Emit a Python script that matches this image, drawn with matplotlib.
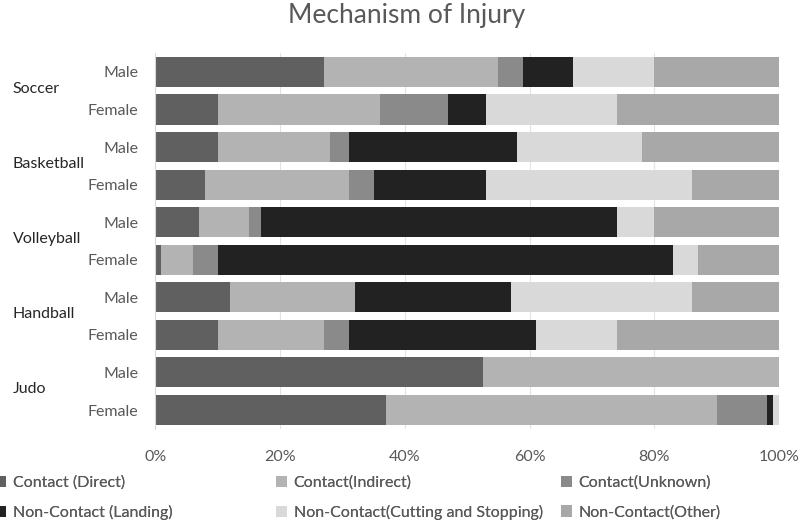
import numpy as np
import matplotlib.pyplot as plt

plt.rcParams['font.family'] = ['Lato', 'DejaVu Sans']

sports = ['Soccer', 'Basketball', 'Volleyball', 'Handball', 'Judo']
sexes = ['Male', 'Female']

# percent of injuries per mechanism, bars in top-to-bottom order
direct = [27, 10, 10, 8, 7, 1, 12, 10, 52.5, 37]
indirect = [28, 26, 18, 23, 8, 5, 20, 17, 47.5, 53]
unknown = [4, 11, 3, 4, 2, 4, 0, 4, 0, 8]
landing = [8, 6, 27, 18, 57, 73, 25, 30, 0, 1]
cutting = [13, 21, 20, 33, 6, 4, 29, 13, 0, 1]
other = [20, 26, 22, 14, 20, 13, 14, 26, 0, 0]

series = [
    ('Contact (Direct)', direct, '#606060'),
    ('Contact(Indirect)', indirect, '#b3b3b3'),
    ('Contact(Unknown)', unknown, '#8a8a8a'),
    ('Non-Contact (Landing)', landing, '#222222'),
    ('Non-Contact(Cutting and Stopping)', cutting, '#d9d9d9'),
    ('Non-Contact(Other)', other, '#a8a8a8'),
]

fig = plt.figure(figsize=(8, 5.21), dpi=100)
ax = fig.add_axes([0.194, 0.177, 0.78, 0.721])

y = np.arange(len(direct))
left = np.zeros(len(direct))
handles = {}
for name, vals, color in series:
    vals = np.array(vals, dtype=float)
    b = ax.barh(y, vals, left=left, height=0.8, color=color, label=name)
    handles[name] = b
    left += vals

ax.set_xlim(0, 100)
ax.set_ylim(len(direct) - 0.5, -0.5)
ax.set_xticks(np.arange(0, 101, 20))
ax.set_xticklabels([f'{v}%' for v in range(0, 101, 20)], fontsize=11.5, color='#595959')
ax.tick_params(axis='x', length=0, pad=15)
ax.set_yticks(y)
ax.set_yticklabels(sexes * len(sports), fontsize=11.5, color='#595959')
ax.tick_params(axis='y', length=0, pad=12)
ax.grid(axis='x', color='#e3e3e3', lw=0.8)
ax.set_axisbelow(True)
for s in ['top', 'right', 'bottom']:
    ax.spines[s].set_visible(False)
ax.spines['left'].set_color('#d9d9d9')

# sport group labels
trans = ax.get_yaxis_transform()
for i, sport in enumerate(sports):
    ax.text(-0.228, 2 * i + 0.45, sport, transform=trans, fontsize=11.5,
            color='#262626', ha='left', va='center')

fig.suptitle('Mechanism of Injury', y=0.995, x=0.508, fontsize=19, color='#595959')

# legend: three columns placed like the original
cols = [[0, 3], [1, 4], [2, 5]]
xs = [-0.006, 0.345, 0.701]
for xpos, idx in zip(xs, cols):
    hs = [handles[series[k][0]] for k in idx]
    lg = fig.legend(hs, [series[k][0] for k in idx], loc='upper left',
                    bbox_to_anchor=(xpos, 0.087), frameon=False, fontsize=11.5,
                    handlelength=0.7, handleheight=0.7, handletextpad=0.4,
                    labelspacing=0.95, borderpad=0, borderaxespad=0)
    for t in lg.get_texts():
        t.set_color('#595959')
    fig.add_artist(lg)

fig.savefig('out.png', dpi=100)
